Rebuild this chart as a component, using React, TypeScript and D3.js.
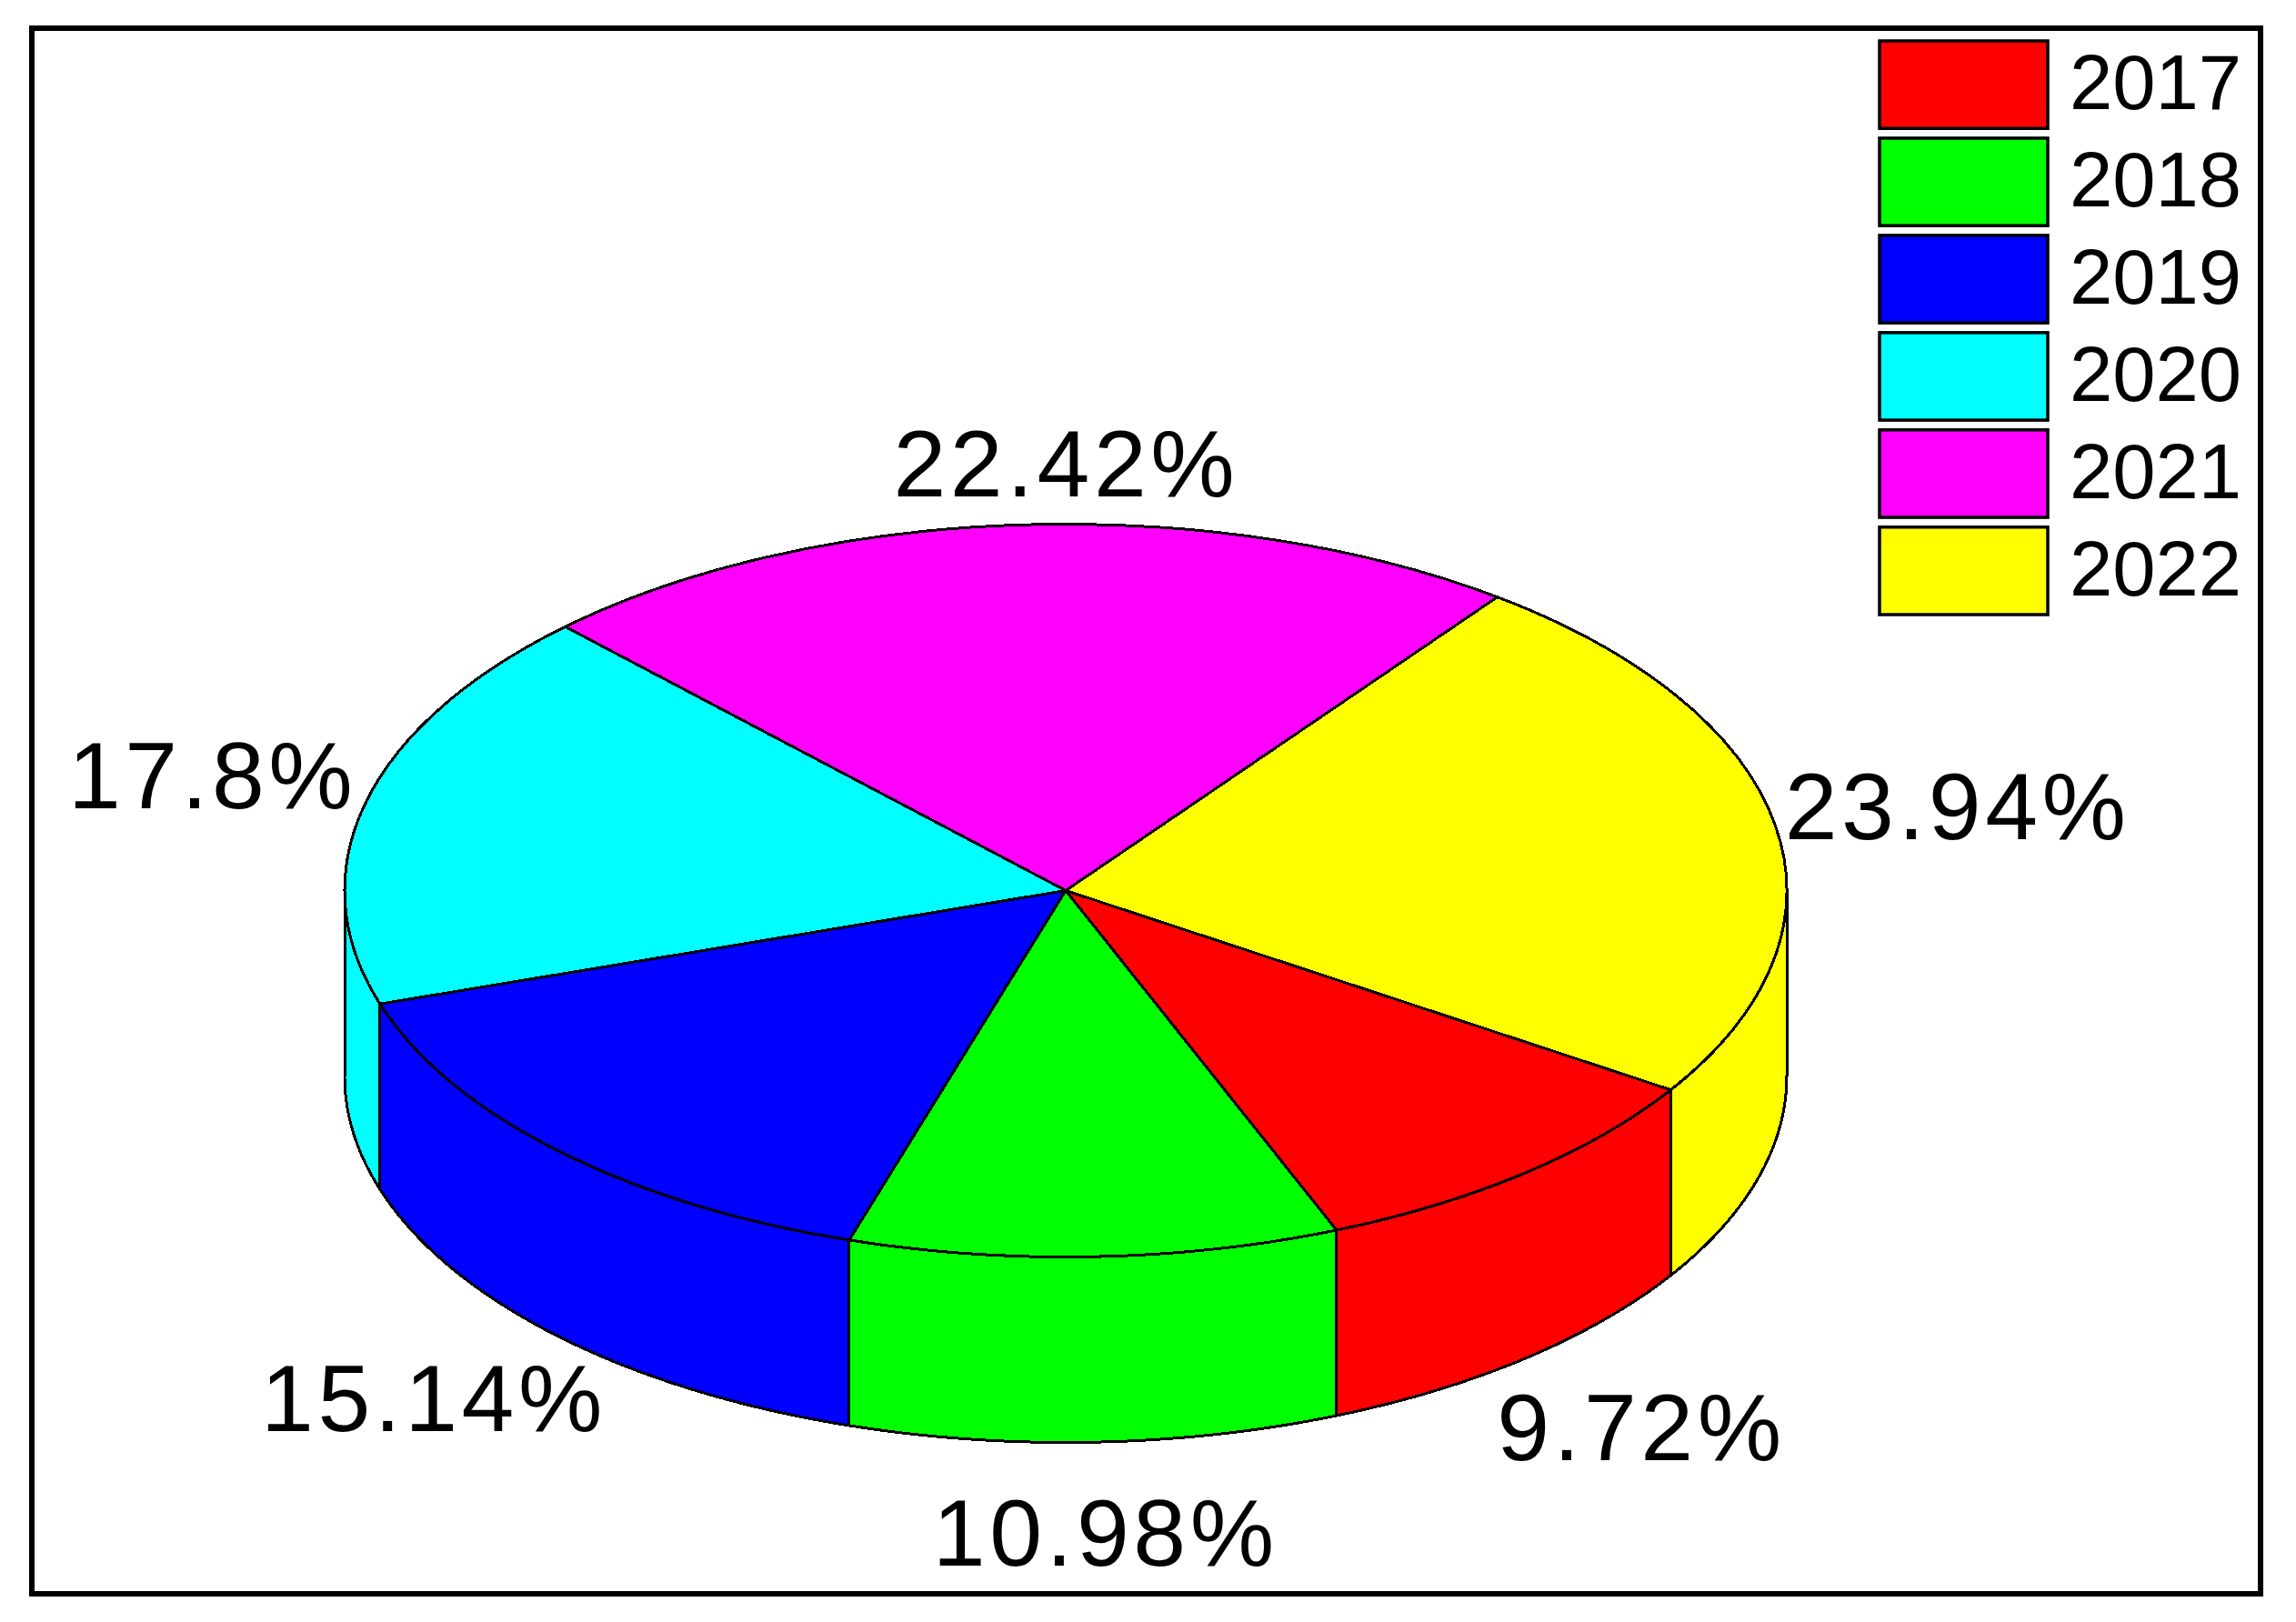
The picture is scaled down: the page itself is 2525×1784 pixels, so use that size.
import * as d3 from "d3";
import React from "react";

const years = ["2017", "2018", "2019", "2020", "2021", "2022"];
const shares = [9.72, 10.98, 15.14, 17.8, 22.42, 23.94];
const colors = ["#ff0000", "#00ff00", "#0000ff", "#00ffff", "#ff00ff", "#ffff00"];
// label position relative to the rim point at the middle of each slice
const labelOffsets = [
  [128, 112],
  [12, 136],
  [-137, 104],
  [-169, 7],
  [50, -31],
  [200, 14],
];

const width = 2525;
const height = 1784;
const cx = 1172;
const cy = 979.5;
const rx = 793;
const ry = 403;
const depth = 204;
const startDeg = 32.95; // clockwise from 3 o'clock, where the 2017 slice starts
const labelFont = "'Liberation Sans', Arial, sans-serif";

const arcs = d3
  .pie<number>()
  .sort(null)
  .startAngle(((startDeg + 90) * Math.PI) / 180)
  .endAngle(((startDeg + 90 + 360) * Math.PI) / 180)(shares);

// d3 measures from 12 o'clock, the wall code from 3 o'clock
const toTheta = (a: number) => a - Math.PI / 2;

const topArc = d3.arc<d3.PieArcDatum<number>>().innerRadius(0).outerRadius(rx);

const wallArea = d3
  .area<number>()
  .x((t) => cx + rx * Math.cos(t))
  .y0((t) => cy + ry * Math.sin(t))
  .y1((t) => cy + ry * Math.sin(t) + depth);

// the part of a slice that faces the viewer, i.e. theta in [0, PI]
function wallPath(d: d3.PieArcDatum<number>) {
  let a = toTheta(d.startAngle);
  let b = toTheta(d.endAngle);
  if (b > 2 * Math.PI) {
    a -= 2 * Math.PI;
    b -= 2 * Math.PI;
  }
  const from = Math.max(a, 0);
  const to = Math.min(b, Math.PI);
  if (to <= from) return null;
  const steps = d3.range(from, to, Math.PI / 360).concat(to);
  return wallArea(steps);
}

function labelPos(d: d3.PieArcDatum<number>, i: number) {
  const mid = toTheta((d.startAngle + d.endAngle) / 2);
  const sin = Math.sin(mid);
  return [
    cx + rx * Math.cos(mid) + labelOffsets[i][0],
    cy + ry * sin + (sin > 0 ? depth : 0) + labelOffsets[i][1],
  ];
}

const legendY = d3.scaleBand().domain(years).range([45, 676]).paddingInner(0.1);

export default function App() {
  return (
    <svg
      width={width}
      height={height}
      style={{ position: "absolute", left: 0, top: 0, background: "#fff" }}
    >
      <rect x={35} y={31} width={2451} height={1722} fill="none" stroke="#000" strokeWidth={6} />

      <g shapeRendering="crispEdges">
        {arcs.map((d, i) => {
          const p = wallPath(d);
          return p ? (
            <path key={i} d={p} fill={colors[i]} stroke="#000" strokeWidth={3} />
          ) : null;
        })}
        <g transform={`translate(${cx},${cy}) scale(1,${ry / rx})`}>
          {arcs.map((d, i) => (
            <path
              key={i}
              d={topArc(d) as string}
              fill={colors[i]}
              stroke="#000"
              strokeWidth={3}
              vectorEffect="non-scaling-stroke"
            />
          ))}
        </g>
      </g>

      {arcs.map((d, i) => {
        const [x, y] = labelPos(d, i);
        return (
          <text
            key={i}
            x={x}
            y={y}
            textAnchor="middle"
            fontFamily={labelFont}
            fontSize={104}
            letterSpacing={4.5}
          >
            {shares[i]}%
          </text>
        );
      })}

      {years.map((y, i) => (
        <g key={y}>
          <rect
            x={2067}
            y={legendY(y)}
            width={185}
            height={legendY.bandwidth()}
            fill={colors[i]}
            stroke="#000"
            strokeWidth={3.5}
          />
          <text
            x={2276}
            y={(legendY(y) as number) + legendY.bandwidth() / 2 + 27}
            fontFamily={labelFont}
            fontSize={85}
          >
            {y}
          </text>
        </g>
      ))}
    </svg>
  );
}
